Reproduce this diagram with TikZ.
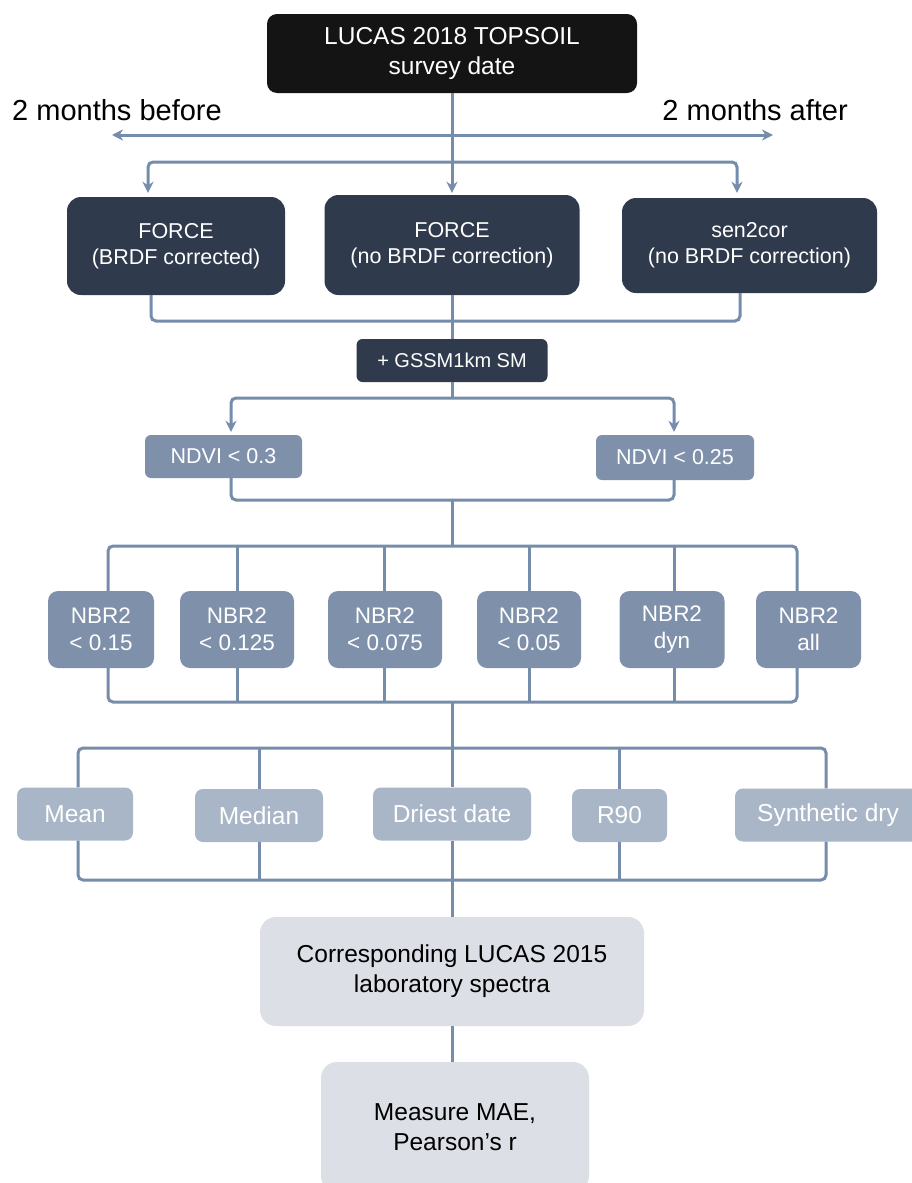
\documentclass[tikz,border=0pt]{standalone}
\usepackage{fontspec}
\setmainfont{Liberation Sans}
\usetikzlibrary{arrows.meta}
\definecolor{topc}{HTML}{141414}
\definecolor{darkc}{HTML}{2F3A4C}
\definecolor{midc}{HTML}{7F91AA}
\definecolor{lightc}{HTML}{A9B6C7}
\definecolor{vlightc}{HTML}{DCDFE5}
\definecolor{linec}{HTML}{768CAB}
\begin{document}
\begin{tikzpicture}[x=1pt,y=-1pt,
  box/.style={rounded corners=12pt, inner sep=0pt, align=center, text=white},
  fdark/.style={box, fill=darkc, rounded corners=14pt, font=\fontsize{21.5}{26}\selectfont},
  nbr/.style={box, fill=midc, rounded corners=10pt, minimum height=77pt, font=\fontsize{22.5}{27}\selectfont},
  stat/.style={box, fill=lightc, rounded corners=8pt, minimum height=53pt, font=\fontsize{24.5}{30}\selectfont},
  pale/.style={box, fill=vlightc, text=black, rounded corners=16pt, font=\fontsize{24.5}{30}\selectfont},
  conn/.style={draw=linec, line width=3pt, rounded corners=5pt},
  tip/.tip={Stealth[length=11pt,width=11pt,inset=3.5pt]},
  arr/.style={conn, -tip}]
\clip (0,0) rectangle (912,1183);
\fill[white] (0,0) rectangle (912,1183);

% nodes
\node[box, fill=topc, rounded corners=10pt, minimum width=370pt, minimum height=79pt,
  font=\fontsize{24.5}{30}\selectfont] (top) at (452,53.5) {LUCAS 2018 TOPSOIL\\survey date};
\node[anchor=base west, inner sep=0pt, font=\fontsize{29}{34}\selectfont] (before) at (12,120) {2 months before};
\node[anchor=base east, inner sep=0pt, font=\fontsize{29}{34}\selectfont] (after) at (848,120) {2 months after};

\node[fdark, minimum width=218pt, minimum height=98pt] (f1) at (176,246) {FORCE\\(BRDF corrected)};
\node[fdark, minimum width=255pt, minimum height=100pt] (f2) at (452,245) {FORCE\\(no BRDF correction)};
\node[fdark, minimum width=255pt, minimum height=95pt] (f3) at (749.5,245.5) {sen2cor\\(no BRDF correction)};

\node[box, fill=darkc, rounded corners=6pt, minimum width=191pt, minimum height=43pt,
  font=\fontsize{20}{24}\selectfont] (gssm) at (452,360.5) {+ GSSM1km SM};

\node[box, fill=midc, rounded corners=6pt, minimum width=157pt, minimum height=43pt,
  font=\fontsize{21.5}{26}\selectfont] (ndvi1) at (223.5,456.5) {NDVI < 0.3};
\node[box, fill=midc, rounded corners=6pt, minimum width=158pt, minimum height=45pt,
  font=\fontsize{21.5}{26}\selectfont] (ndvi2) at (675,457.5) {NDVI < 0.25};

\node[nbr, minimum width=106pt] (b1) at (101,629.5) {NBR2\\< 0.15};
\node[nbr, minimum width=114pt] (b2) at (237,629.5) {NBR2\\< 0.125};
\node[nbr, minimum width=114pt] (b3) at (385,629.5) {NBR2\\< 0.075};
\node[nbr, minimum width=104pt] (b4) at (529,629.5) {NBR2\\< 0.05};
\node[nbr, minimum width=105pt] (b5) at (672,629.5) {NBR2\\dyn};
\node[nbr, minimum width=105pt] (b6) at (808.5,629.5) {NBR2\\all};

\node[stat, minimum width=116pt] (mean) at (75,814) {Mean};
\node[stat, minimum width=128pt] (median) at (259,815.5) {Median};
\node[stat, minimum width=158pt] (driest) at (452,814) {Driest date};
\node[stat, minimum width=95pt] (r90) at (619.5,815.5) {R90};
\node[stat, minimum width=186pt] (synth) at (828,815) {Synthetic dry};

\node[pale, minimum width=384pt, minimum height=109pt] (corr) at (452,971.5) {Corresponding LUCAS 2015\\laboratory spectra};
\node[pale, minimum width=268pt, minimum height=130pt] (meas) at (455,1127) {Measure MAE,\\Pearson's r};

% connectors
\coordinate (bl) at (112,135);
\coordinate (br) at (773,135);
\draw[conn, tip-tip] (bl) -- (br);
\coordinate (j1) at (452,162);
\draw[arr, shorten >=2pt] (top.south) -- (f2.north);
\draw[arr, shorten >=4pt] (j1) -| ([xshift=-28pt]f1.north);
\draw[arr, shorten >=5pt] (j1) -| ([xshift=-12.5pt]f3.north);

\coordinate (j2) at (452,321);
\draw[conn] ([xshift=-25pt]f1.south) |- (j2) -| ([xshift=-9.5pt]f3.south);
\draw[conn] (f2.south) -- (gssm.north);

\coordinate (j3) at (452,398);
\draw[conn] (gssm.south) -- (j3);
\draw[arr, shorten >=3pt] (j3) -| ([xshift=7.5pt]ndvi1.north);
\draw[arr, shorten >=3pt] (j3) -| ([xshift=-1pt]ndvi2.north);

\coordinate (j4) at (452,500);
\coordinate (j5) at (452,546);
\draw[conn] ([xshift=7.5pt]ndvi1.south) |- (j4) -| ([xshift=-1pt]ndvi2.south);
\draw[conn] (j4) -- (j5);
\draw[conn] ([xshift=7pt]b1.north) |- (j5) -| ([xshift=-11.5pt]b6.north);
\foreach \b/\s in {b2/0,b3/-1,b4/0,b5/2} {
  \draw[conn] ([xshift=\s pt]\b.north) -- ([xshift=\s pt]\b.north |- j5);
}

\coordinate (j6) at (452,702);
\coordinate (j7) at (452,748);
\draw[conn] ([xshift=7pt]b1.south) |- (j6) -| ([xshift=-11.5pt]b6.south);
\foreach \b/\s in {b2/0,b3/-1,b4/0,b5/2} {
  \draw[conn] ([xshift=\s pt]\b.south) -- ([xshift=\s pt]\b.south |- j6);
}
\draw[conn] (j6) -- (j7) -- (driest.north);
\draw[conn] ([xshift=3pt]mean.north) |- (j7) -| ([xshift=-2pt]synth.north);
\draw[conn] (median.north) -- (median.north |- j7);
\draw[conn] (r90.north) -- (r90.north |- j7);

\coordinate (j8) at (452,880);
\draw[conn] ([xshift=3pt]mean.south) |- (j8) -| ([xshift=-2pt]synth.south);
\draw[conn] (median.south) -- (median.south |- j8);
\draw[conn] (r90.south) -- (r90.south |- j8);
\draw[conn] (driest.south) -- (j8) -- (corr.north);
\draw[conn] (corr.south) -- (corr.south |- meas.north);
\end{tikzpicture}
\end{document}
